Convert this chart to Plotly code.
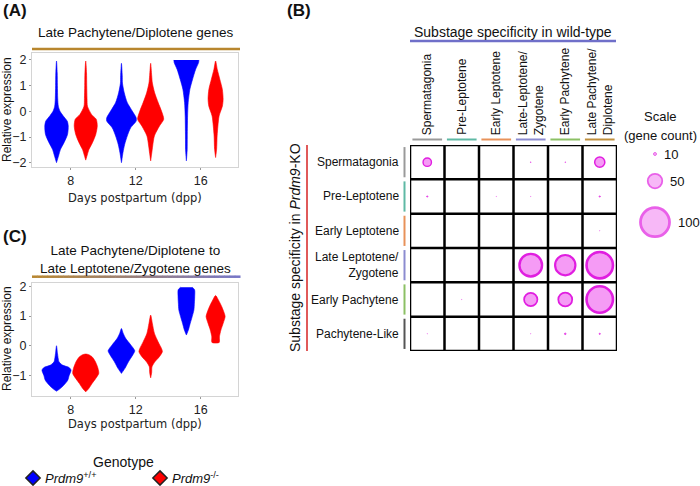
import plotly.graph_objects as go

W, H = 700, 486
def px(x): return x / W
def py(y): return 1 - y / H

# ---------------- data ----------------
days = [8, 12, 16]
genotype_names = ["<i>Prdm9</i><sup>+/+</sup>", "<i>Prdm9</i><sup>-/-</sup>"]
genotype_colors = ["#0000ff", "#ff0000"]
genotype_offsets = [-0.88, 0.92]

# violin profiles: (relative expression, half-width in px)
a_wt_8 = [(1.96, 0), (1.5, 0.7), (1.0, 0.9), (0.5, 1.2), (0.2, 1.8), (0.0, 3.5), (-0.18, 6.7), (-0.38, 10.7),
          (-0.57, 11.7), (-0.9, 11), (-1.22, 7.5), (-1.48, 4), (-1.74, 2), (-2.0, 0)]
a_ko_8 = [(1.96, 0), (1.5, 0.8), (1.0, 1.0), (0.5, 1.3), (0.2, 1.7), (-0.12, 5.8), (-0.31, 10.5), (-0.57, 11.5),
          (-0.9, 10), (-1.22, 6.7), (-1.48, 3.3), (-1.7, 1.5), (-1.9, 0)]
a_wt_12 = [(1.87, 0), (1.4, 0.8), (1.1, 1.0), (0.72, 2.8), (0.34, 5.8), (0.01, 10.8), (-0.25, 14.7), (-0.38, 14.7),
           (-0.64, 9.2), (-0.96, 5.8), (-1.29, 3.2), (-1.61, 1.5), (-2.0, 0)]
a_ko_12 = [(1.87, 0), (1.4, 1.0), (1.1, 1.7), (0.72, 4), (0.34, 7.5), (0.01, 10.8), (-0.31, 13), (-0.57, 8.8),
           (-0.96, 3.7), (-1.35, 2), (-1.65, 1), (-1.93, 0)]
a_wt_16 = [(2.0, 12.5), (1.9, 12.2), (1.63, 9.2), (1.25, 6.2), (0.86, 3.5), (0.34, 1.8), (-0.18, 1.2), (-0.96, 0.9),
           (-1.5, 0.8), (-1.93, 0)]
a_ko_16 = [(1.96, 0), (1.63, 1.7), (1.25, 4.2), (0.86, 6.7), (0.47, 7.5), (0.21, 6.8), (-0.18, 3.5), (-0.57, 2.3),
           (-0.96, 1.5), (-1.48, 1), (-1.8, 0)]

c_wt_8 = [(0.0, 0), (-0.26, 1), (-0.54, 2.5), (-0.65, 6), (-0.73, 12.5), (-0.82, 14.5), (-0.99, 12.7),
          (-1.16, 11.2), (-1.33, 7.2), (-1.44, 3.7), (-1.53, 0)]
c_ko_8 = [(-0.28, 0), (-0.3, 3), (-0.37, 6.3), (-0.54, 9.7), (-0.76, 12.2), (-0.93, 13), (-1.1, 10), (-1.27, 6.3),
          (-1.44, 3), (-1.55, 0)]
c_wt_12 = [(0.58, 0), (0.42, 1.7), (0.25, 4.2), (0.02, 9.5), (-0.17, 13.3), (-0.31, 11.3), (-0.54, 7),
           (-0.76, 3.5), (-0.93, 0)]
c_ko_12 = [(1.03, 0), (0.75, 1.7), (0.42, 3.7), (0.13, 7.5), (-0.09, 10.8), (-0.2, 11.7), (-0.37, 8.7),
           (-0.54, 4.2), (-0.71, 1.3), (-0.9, 1), (-1.08, 0)]
c_wt_16 = [(1.97, 5.8), (1.88, 8.2), (1.65, 8.3), (1.43, 8), (1.2, 7.5), (0.98, 5.8), (0.75, 3.8), (0.53, 2),
           (0.36, 0)]
c_ko_16 = [(1.69, 0), (1.54, 2.8), (1.31, 6.2), (1.09, 8.7), (0.98, 9.5), (0.75, 7.5), (0.53, 5.3), (0.3, 3.8),
           (0.11, 3.6)]

panel_a = [[a_wt_8, a_wt_12, a_wt_16], [a_ko_8, a_ko_12, a_ko_16]]
panel_c = [[c_wt_8, c_wt_12, c_wt_16], [c_ko_8, c_ko_12, c_ko_16]]

# bubble grid
wt_stages = ["Spermatagonia", "Pre-Leptotene", "Early Leptotene", "Late-Leptotene/<br>Zygotene",
             "Early Pachytene", "Late Pachytene/<br>Diplotene"]
ko_stages = ["Spermatagonia", "Pre-Leptotene", "Early Leptotene", "Late Leptotene/<br>Zygotene",
             "Early Pachytene", "Pachytene-Like"]
wt_colors = ["#9a9a9a", "#5fb9a5", "#e8925a", "#8c8cd0", "#8cc065", "#c0903e"]
ko_colors = ["#9a9a9a", "#5fb9a5", "#e8925a", "#8c8cd0", "#8cc065", "#555555"]
gene_counts = [
    [29, 0, 0, 2, 2, 35],
    [4, 0, 1, 1, 0, 4],
    [0, 0, 0, 0, 0, 1],
    [0, 0, 0, 78, 70, 91],
    [0, 1, 0, 46, 48, 91],
    [1, 0, 0, 1, 5, 4],
]
scale_counts = [10, 50, 100]

# ---------------- styling helpers ----------------
PX_PER_DAY = 16.2
FONT = "Liberation Sans, Arial, sans-serif"

def bubble_size(c):
    return 0.29 * c

def bubble_line(c):
    return 0.8 + 0.02 * c

def violin_xy(center, prof):
    ys = [p[0] for p in prof]
    ws = [p[1] / PX_PER_DAY for p in prof]
    xl = [center - w for w in ws]
    xr = [center + w for w in reversed(ws)]
    return xl + xr, ys + ys[::-1]

fig = go.Figure()

for (panel, xa, ya) in [(panel_a, "x", "y"), (panel_c, "x2", "y2")]:
    for g in range(2):
        for d, day in enumerate(days):
            xs, ys = violin_xy(day + genotype_offsets[g], panel[g][d])
            fig.add_trace(go.Scatter(
                x=xs, y=ys, fill="toself", fillcolor=genotype_colors[g], mode="lines",
                line=dict(color=genotype_colors[g], width=0.6, shape="spline", smoothing=0.7),
                hoverinfo="skip", showlegend=False, xaxis=xa, yaxis=ya))

# manual legend keys (genotype index along a small axis)
fig.add_trace(go.Scatter(
    x=list(range(len(genotype_names))), y=[0.5] * len(genotype_names), mode="markers",
    marker=dict(symbol="diamond", size=11, color=genotype_colors, line=dict(color="#222222", width=1.5)),
    xaxis="x5", yaxis="y5", showlegend=False, hoverinfo="skip", cliponaxis=False))

# bubbles
bx, by, bs, bl = [], [], [], []
for r in range(len(ko_stages)):
    for c in range(len(wt_stages)):
        v = gene_counts[r][c]
        if v > 0:
            bx.append(c + 1)
            by.append(r + 1)
            bs.append(bubble_size(v))
            bl.append(bubble_line(v))
fig.add_trace(go.Scatter(
    x=bx, y=by, mode="markers", xaxis="x3", yaxis="y3", showlegend=False, hoverinfo="skip",
    marker=dict(size=bs, sizemode="diameter", color="#f59bf5", line=dict(color="#e01ee0", width=bl), opacity=1),
    cliponaxis=False))

# scale legend
sy = []
prev = None
for v in scale_counts:
    d = bubble_size(v) + bubble_line(v)
    if prev is None:
        sy.append(154)
    else:
        sy.append(sy[-1] + prev / 2 + 17 + d / 2)
    prev = d
fig.add_trace(go.Scatter(
    x=[0.5] * len(scale_counts), y=sy, mode="markers", xaxis="x4", yaxis="y4", showlegend=False,
    hoverinfo="skip", cliponaxis=False,
    marker=dict(size=[bubble_size(v) for v in scale_counts], color="#f59bf5",
                line=dict(color="#e01ee0", width=[bubble_line(v) for v in scale_counts]))))

annotations = []
shapes = []

def ann(text, x, y, size=12, xanchor="center", yanchor="middle", angle=0, align="center", **kw):
    d = dict(text=text, x=x, y=y, xref=kw.pop("xref", "paper"), yref=kw.pop("yref", "paper"),
             showarrow=False, font=dict(family=kw.pop("family", FONT), size=size, color=kw.pop("color", "#111")),
             xanchor=xanchor, yanchor=yanchor, textangle=angle, align=align)
    d.update(kw)
    annotations.append(d)

for r, v in enumerate(scale_counts):
    dd = bubble_size(v) + bubble_line(v)
    ann(str(v), px(654 + dd / 2 + 6), sy[r], size=13, xanchor="left", yref="y4")
ann("Scale", px(660), py(117), size=13)
ann("(gene count)", px(660), py(135), size=13)

# genotype legend text
ann("Genotype", px(124), py(462), size=14)
for g, name in enumerate(genotype_names):
    ann(name, g, 0.5, size=13, xanchor="left", xref="x5", yref="y5", xshift=10)

# panel labels
ann("<b>(A)</b>", px(1), py(10), size=17, xanchor="left")
ann("<b>(B)</b>", px(285), py(10), size=17, xanchor="left")
ann("<b>(C)</b>", px(1), py(236), size=17, xanchor="left")

# titles
ann("Late Pachytene/Diplotene genes", px(135), py(32), size=13.5)
shapes.append(dict(type="line", xref="paper", yref="paper", x0=px(32), x1=px(240), y0=py(49), y1=py(49),
                   line=dict(color="#b8862e", width=2.5)))
ann("Late Pachytene/Diplotene to<br>Late Leptotene/Zygotene genes", px(135), py(259), size=13.5)
N = 40
c0, c1 = (184, 134, 46), (118, 118, 200)
for i in range(N):
    t = (i + 0.5) / N
    col = "rgb(%d,%d,%d)" % tuple(round(c0[k] + (c1[k] - c0[k]) * t) for k in range(3))
    xa0 = 32 + (240 - 32) * i / N
    xa1 = 32 + (240 - 32) * (i + 1) / N
    shapes.append(dict(type="line", xref="paper", yref="paper", x0=px(xa0), x1=px(xa1 + 0.5),
                       y0=py(276.7), y1=py(276.7), line=dict(color=col, width=2.5)))

# axis titles
for yc in [110, 339]:
    ann("Relative expression", px(7), py(yc), size=12, angle=-90)
ann("Days postpartum (dpp)", px(135), py(198), size=11.5, family="DejaVu Sans, sans-serif", color="#222")
ann("Days postpartum (dpp)", px(135), py(424), size=11.5, family="DejaVu Sans, sans-serif", color="#222")

# panel B text
ann("Substage specificity in wild-type", px(513), py(32), size=14)
shapes.append(dict(type="line", xref="paper", yref="paper", x0=px(410), x1=px(616), y0=py(41), y1=py(41),
                   line=dict(color="#6f6fc9", width=2.5)))
ann("Substage specificity in <i>Prdm9</i>-KO", px(295), py(248), size=14, angle=-90)
shapes.append(dict(type="line", xref="paper", yref="paper", x0=px(307), x1=px(307), y0=py(145), y1=py(351),
                   line=dict(color="#e05a5a", width=2)))

for c, lab in enumerate(wt_stages):
    ann(lab, c + 1, py(137), size=12, xref="x3", yanchor="bottom", angle=-90, align="left")
    shapes.append(dict(type="line", xref="x3", yref="paper", x0=c + 0.5 + 0.07, x1=c + 1.5 - 0.07,
                       y0=py(139.5), y1=py(139.5), line=dict(color=wt_colors[c], width=2)))
for r, lab in enumerate(ko_stages):
    ann(lab, px(401), r + 1, size=12, xanchor="right", yref="y3", align="right")
    shapes.append(dict(type="line", xref="paper", yref="y3", x0=px(404.5), x1=px(404.5),
                       y0=r + 1 - 0.44, y1=r + 1 + 0.44, line=dict(color=ko_colors[r], width=2)))

for i in range(len(wt_stages) + 1):
    shapes.append(dict(type="line", xref="x3", yref="y3", x0=i + 0.5, x1=i + 0.5, y0=0.5, y1=len(ko_stages) + 0.5,
                       line=dict(color="black", width=2.5), layer="below"))
for i in range(len(ko_stages) + 1):
    shapes.append(dict(type="line", xref="x3", yref="y3", x0=0.5, x1=len(wt_stages) + 0.5, y0=i + 0.5, y1=i + 0.5,
                       line=dict(color="black", width=2.5), layer="below"))

axis_common = dict(showline=True, mirror=True, linecolor="#d4d4d4", linewidth=1, showgrid=False, zeroline=False,
                   ticks="outside", ticklen=2, tickcolor="#999", tickfont=dict(family=FONT, size=12.5, color="#222"))

fig.update_layout(
    width=W, height=H, margin=dict(l=0, r=0, t=0, b=0, autoexpand=False),
    paper_bgcolor="white", plot_bgcolor="white",
    xaxis=dict(domain=[px(32), px(238)], range=[5.61, 18.3], tickvals=days, anchor="y", **axis_common),
    yaxis=dict(domain=[py(167.3), py(53.3)], range=[-2.18, 2.26], tickvals=[-2, -1, 0, 1, 2], anchor="x",
               **axis_common),
    xaxis2=dict(domain=[px(32), px(238)], range=[5.61, 18.3], tickvals=days, anchor="y2", **axis_common),
    yaxis2=dict(domain=[py(396), py(282.7)], range=[-1.69, 2.12], tickvals=[-1, 0, 1, 2], anchor="x2",
                **axis_common),
    xaxis3=dict(domain=[px(410), px(617)], range=[0.5, 6.5], visible=False, anchor="y3"),
    yaxis3=dict(domain=[py(351), py(145)], range=[6.5, 0.5], visible=False, anchor="x3"),
    xaxis4=dict(domain=[px(640), px(670)], range=[0, 1], visible=False, anchor="y4"),
    yaxis4=dict(domain=[py(250), py(140)], range=[250, 140], visible=False, anchor="x4"),
    xaxis5=dict(domain=[px(33), px(160)], range=[0, 1], visible=False, anchor="y5"),
    yaxis5=dict(domain=[py(486), py(470)], range=[0, 1], visible=False, anchor="x5"),
    annotations=annotations, shapes=shapes,
    showlegend=False,
)

css_fix = ("var s=document.createElement('style');"
           "s.innerHTML='html,body{margin:0;padding:0;overflow:hidden;width:700px;height:486px;}';"
           "document.head.appendChild(s);")
fig.write_html("out.html", config={"displayModeBar": False}, post_script=css_fix)
